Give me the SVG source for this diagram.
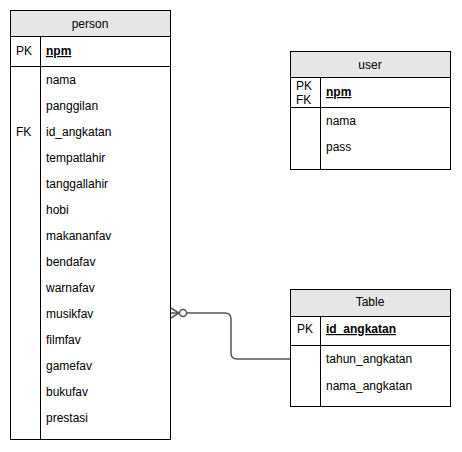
<svg xmlns="http://www.w3.org/2000/svg" width="462" height="452" viewBox="0 0 462 452">
<style>
text{font-family:"Liberation Sans",Arial,sans-serif;font-size:12px;fill:#000}
.hd{fill:#e6e6e6;stroke:#000;stroke-width:1}
.bx{fill:#fff;stroke:#000;stroke-width:1}
.ln{stroke:#000;stroke-width:1;fill:none}
.c{text-anchor:middle}
.k{font-weight:bold;text-decoration:underline}
.cn{fill:none;stroke:#555;stroke-width:1.5}
</style>
<rect width="462" height="452" fill="#fff"/>
<g id="person">
<rect class="bx" x="10.5" y="10.5" width="160" height="429"/>
<rect class="hd" x="10.5" y="10.5" width="160" height="26"/>
<line class="ln" x1="10.5" y1="66.5" x2="170.5" y2="66.5"/>
<line class="ln" x1="40.5" y1="36.5" x2="40.5" y2="439.5"/>
<text class="c" x="90" y="28">person</text>
<text x="16" y="55">PK</text>
<text class="k" x="46" y="55">npm</text>
<text x="46" y="84">nama</text>
<text x="46" y="110">panggilan</text>
<text x="16" y="136">FK</text>
<text x="46" y="136">id_angkatan</text>
<text x="46" y="162">tempatlahir</text>
<text x="46" y="188">tanggallahir</text>
<text x="46" y="214">hobi</text>
<text x="46" y="240">makananfav</text>
<text x="46" y="266">bendafav</text>
<text x="46" y="292">warnafav</text>
<text x="46" y="318">musikfav</text>
<text x="46" y="344">filmfav</text>
<text x="46" y="370">gamefav</text>
<text x="46" y="396">bukufav</text>
<text x="46" y="422">prestasi</text>
</g>
<g id="user">
<rect class="bx" x="290.5" y="51.5" width="160" height="118"/>
<rect class="hd" x="290.5" y="51.5" width="160" height="26"/>
<line class="ln" x1="290.5" y1="107.5" x2="450.5" y2="107.5"/>
<line class="ln" x1="320.5" y1="77.5" x2="320.5" y2="169.5"/>
<text class="c" x="370" y="69">user</text>
<text x="296" y="90">PK</text>
<text x="296" y="104">FK</text>
<text class="k" x="326" y="96">npm</text>
<text x="326" y="125">nama</text>
<text x="326" y="151">pass</text>
</g>
<g id="table">
<rect class="bx" x="290.5" y="289.5" width="160" height="117"/>
<rect class="hd" x="290.5" y="289.5" width="160" height="27"/>
<line class="ln" x1="290.5" y1="345.5" x2="450.5" y2="345.5"/>
<line class="ln" x1="320.5" y1="316.5" x2="320.5" y2="406.5"/>
<text class="c" x="370" y="306">Table</text>
<text x="297" y="333">PK</text>
<text class="k" x="326" y="333">id_angkatan</text>
<text x="326" y="363">tahun_angkatan</text>
<text x="326" y="390">nama_angkatan</text>
</g>
<g id="connectors">
<path class="cn" d="M186.5,313 H225 Q231,313 231,319 V353 Q231,359 237,359 H290"/>
<path class="cn" d="M171,308 L179,313 L171,318 M171,313 H179"/>
<circle class="cn" cx="183" cy="313" r="3.5" fill="#fff"/>
</g>
</svg>
